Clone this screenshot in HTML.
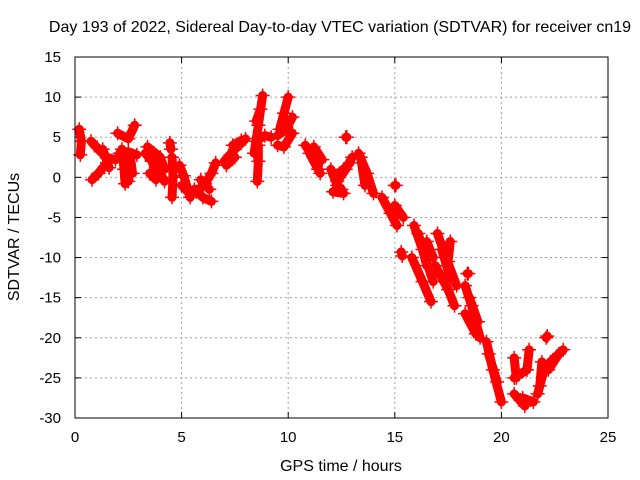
<!DOCTYPE html>
<html><head><meta charset="utf-8"><style>
body{margin:0;background:#fff}
svg{display:block;font-family:"Liberation Sans",sans-serif}
</style></head><body>
<svg id="c" width="640" height="480"></svg>
<script>
const xTicks=[0,5,10,15,20,25];
const yTicks=[15,10,5,0,-5,-10,-15,-20,-25,-30];
const tracks=[
[[0.2,6],[0.3,4.5],[0.25,2.8]],
[[0.75,4.5],[1.2,3.2],[1.5,2.5],[1.9,2.2]],
[[0.8,-0.3],[1.1,0.5],[1.5,1.8]],
[[1.3,3.5],[1.6,1.2]],
[[2.0,5.5],[2.5,4.8],[2.8,6.5]],
[[2.1,3],[2.5,3.2],[2.9,2.8]],
[[2.2,3.5],[2.3,1],[2.35,-0.8]],
[[2.4,2.0],[2.5,-0.5]],
[[2.6,2.5],[2.7,0.5]],
[[3.3,3],[3.8,1.5],[4.2,-0.5]],
[[3.4,3.8],[4.0,2.5],[4.2,1]],
[[3.5,0.5],[3.8,-0.3]],
[[3.6,2.0],[3.9,0.5]],
[[4.45,4.3],[4.5,3.5]],
[[4.55,2.5],[4.6,0],[4.55,-2.5]],
[[4.9,1.5],[5.1,0.2],[5.4,-2.5]],
[[5.0,-1],[5.3,-1.8]],
[[5.6,-1.5],[6.0,-2.5],[6.4,-3]],
[[5.7,-1.8],[6.1,-0.8],[6.4,0.5],[6.6,1.8]],
[[5.9,-0.3],[6.3,-1.5]],
[[7.0,2],[7.5,3.5],[8.0,4.8]],
[[7.1,1.5],[7.5,2.5]],
[[7.4,4],[7.8,4.6]],
[[8.4,3],[8.6,6.5],[8.8,10.2]],
[[8.5,4.5],[8.9,5.2],[9.2,5]],
[[8.55,-0.5],[8.6,2],[8.6,4]],
[[8.5,7],[8.7,8.5]],
[[9.6,6],[9.8,8],[10.0,10]],
[[9.5,4],[9.8,3.8],[10.2,5.5]],
[[9.5,5.2],[9.9,6],[10.2,7.5]],
[[10.8,4],[11.2,2.5],[11.5,0.5]],
[[11.0,3],[11.4,1]],
[[11.2,3.8],[11.6,2.2]],
[[12.0,1],[12.3,-1],[12.5,-1.5]],
[[12.3,-0.5],[12.7,1],[13.0,2.5]],
[[12.7,5],[12.75,5]],
[[12.1,-1.8],[12.6,-2]],
[[12.4,0.5],[12.9,1.8]],
[[13.3,3],[13.7,0.5],[14.0,-2]],
[[13.4,2.5],[13.6,-1]],
[[14.4,-2.5],[14.8,-4.5],[15.1,-6]],
[[15.0,-3.5],[15.4,-5]],
[[15.0,-1],[15.05,-1]],
[[15.3,-9.3],[15.35,-9.8]],
[[15.9,-6],[16.3,-9],[16.8,-13]],
[[15.8,-10],[16.3,-13],[16.7,-15.5]],
[[16.1,-7],[16.5,-11]],
[[16.5,-8],[16.8,-10]],
[[17.0,-7],[17.4,-10],[17.9,-13.5]],
[[16.9,-11],[17.5,-14],[17.8,-16]],
[[17.2,-9],[17.6,-12.5]],
[[17.5,-10.5],[17.6,-8]],
[[18.4,-12],[18.45,-12]],
[[18.3,-13.5],[18.6,-16],[19.0,-20]],
[[18.3,-17],[18.8,-19.5]],
[[18.5,-15],[18.9,-18]],
[[19.3,-20.5],[19.6,-24],[20.0,-28]],
[[19.4,-22],[19.8,-25.5]],
[[20.6,-25],[21.2,-24],[21.3,-21.5]],
[[21.0,-27.5],[21.5,-28]],
[[20.6,-27],[21.1,-28.5]],
[[20.6,-22.5],[20.7,-25]],
[[21.7,-27],[22.0,-24],[22.3,-23],[22.9,-21.5]],
[[22.1,-20],[22.15,-19.8]],
[[21.8,-26],[21.9,-23]],
[[22.2,-24],[22.7,-22]]
];
const L=75,R=608,T=57,B=418;
const xs=h=>L+(h-0)/25*(R-L);
const ys=v=>T+(15-v)/45*(B-T);
const svg=document.getElementById('c');
const NS='http://www.w3.org/2000/svg';
function mk(tag,attrs,parent){const e=document.createElementNS(NS,tag);for(const k in attrs)e.setAttribute(k,attrs[k]);(parent||svg).appendChild(e);return e;}
const grid=mk('g',{});


xTicks.forEach(t=>{if(t>0&&t<25)mk('line',{x1:xs(t),x2:xs(t),y1:T,y2:B,stroke:'#a0a0a0','stroke-dasharray':'2,3'},grid);
 const tl=mk('text',{x:xs(t),y:B+24,'text-anchor':'middle','font-size':15,fill:'#000'});tl.textContent=t;
 
 
 mk('line',{x1:xs(t),x2:xs(t),y1:B,y2:B-6,stroke:'#000'});mk('line',{x1:xs(t),x2:xs(t),y1:T,y2:T+6,stroke:'#000'});});
yTicks.forEach(t=>{if(t<15&&t>-30)mk('line',{x1:L,x2:R,y1:ys(t),y2:ys(t),stroke:'#a0a0a0','stroke-dasharray':'2,3'},grid);
 const tl=mk('text',{x:L-14,y:ys(t)+5,'text-anchor':'end','font-size':15,fill:'#000'});tl.textContent=t;
 
 
 mk('line',{x1:L,x2:L+6,y1:ys(t),y2:ys(t),stroke:'#000'});mk('line',{x1:R,x2:R-6,y1:ys(t),y2:ys(t),stroke:'#000'});});
const series=mk('g',{});


tracks.forEach(tr=>{
 const p=mk('polyline',{points:tr.map(d=>xs(d[0])+','+ys(d[1])).join(' '),fill:'none',stroke:'#f00','stroke-width':9,'stroke-linecap':'round','stroke-linejoin':'round'},series);
 
 
 tr.forEach(d=>{const x=xs(d[0]),y=ys(d[1]);
  mk('path',{d:`M${x-7},${y}H${x+7}M${x},${y-7}V${y+7}`,stroke:'#f00','stroke-width':1.5},series);});
});
const fr=mk('rect',{x:L,y:T,width:R-L,height:B-T,fill:'none',stroke:'#000'});


const ti=mk('text',{x:340,y:32,'text-anchor':'middle','font-size':16});
ti.textContent='Day 193 of 2022, Sidereal Day-to-day VTEC variation (SDTVAR) for receiver cn19';


const xl=mk('text',{x:341,y:471,'text-anchor':'middle','font-size':16});
xl.textContent='GPS time / hours';


const yl=mk('text',{x:0,y:0,'text-anchor':'middle','font-size':16,transform:'translate(19,237) rotate(-90)'});
yl.textContent='SDTVAR / TECUs';


</script>
</body></html>
